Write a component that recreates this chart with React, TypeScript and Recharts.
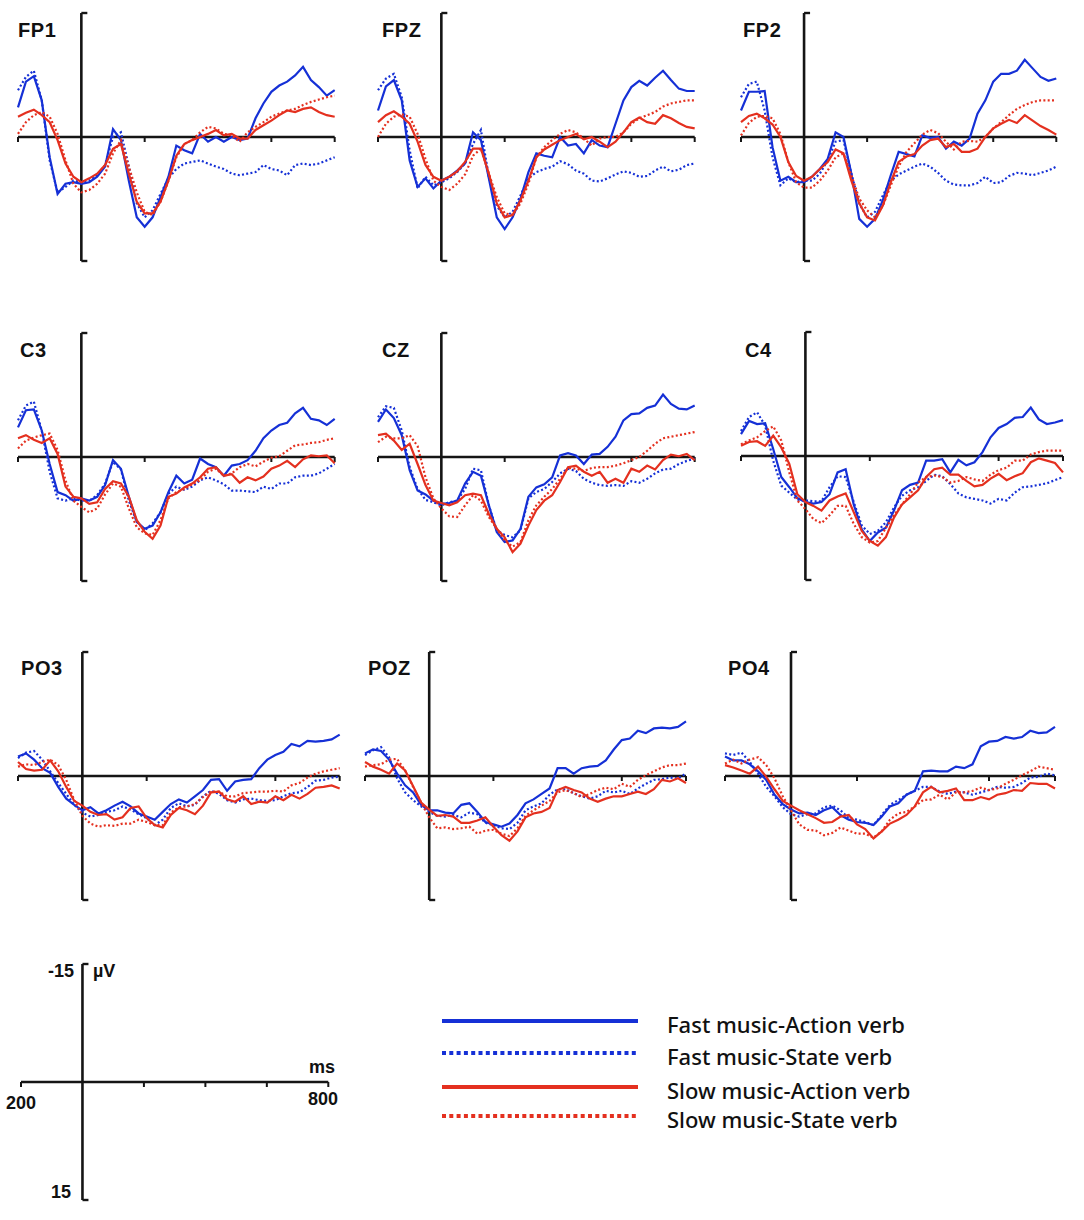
import React from "react";
import { LineChart, Line, XAxis, YAxis, ReferenceLine } from "recharts";

// time points (ms), one every 25 ms
const times = [
  -200, -175, -150, -125, -100, -75, -50, -25, 0, 25, 50, 75, 100, 125, 150, 175, 200, 225, 250, 275, 300,
  325, 350, 375, 400, 425, 450, 475, 500, 525, 550, 575, 600, 625, 650, 675, 700, 725, 750, 775, 800,
];

const seriesNames = [
  "Fast music-Action verb",
  "Fast music-State verb",
  "Slow music-Action verb",
  "Slow music-State verb",
];

// amplitudes in µV (negative plotted up)
const fp1FastAction = [-3.8, -7.1, -7.8, -4.7, 2.6, 7.3, 6.0, 5.8, 6.0, 5.8, 5.1, 3.8, -1.0, 0.4, 5.6, 10.3, 11.5, 10.3, 7.7, 5.1, 1.1, 1.7, 2.1, -0.4, 0.6, 0, 0.6, 0, 0.4, 0.2, -2.4, -4.3, -5.8, -6.6, -7.1, -7.9, -9.0, -7.3, -6.4, -5.3, -6.0];
const fp1FastState = [-6.0, -7.7, -8.5, -4.7, 3.0, 7.1, 6.4, 5.6, 5.8, 5.6, 4.9, 3.6, 0, -0.6, 3.8, 8.5, 10.3, 9.4, 7.3, 5.3, 4.1, 3.4, 3.2, 3.0, 3.4, 3.8, 4.1, 4.7, 4.9, 4.7, 4.5, 3.6, 4.1, 4.3, 4.9, 3.6, 3.4, 3.6, 3.4, 3.0, 2.6];
const fp1SlowAction = [-2.6, -3.1, -3.5, -2.8, -1.9, 0.4, 3.4, 5.1, 5.8, 5.3, 4.7, 3.6, 1.5, 0.9, 4.7, 8.3, 9.8, 9.8, 8.3, 5.6, 2.4, 0.9, 0.4, 0, -0.4, -0.9, -0.2, -0.4, 0.2, 0.2, -0.9, -1.5, -2.1, -2.8, -3.4, -3.2, -3.6, -3.8, -3.2, -2.8, -2.6];
const fp1SlowState = [-0.4, -1.9, -2.8, -3.2, -2.6, -0.4, 3.0, 6.0, 7.1, 6.8, 6.0, 4.7, 2.1, 0.4, 3.8, 7.1, 9.6, 10.0, 8.3, 5.6, 2.6, 0.9, 0.4, -0.6, -1.3, -1.1, -0.4, -0.2, 0.6, -0.6, -1.3, -1.9, -2.6, -3.0, -3.4, -3.6, -4.1, -4.5, -4.8, -5.1, -5.3];

const fpzFastAction = [-3.4, -6.5, -7.3, -4.7, 3.0, 6.4, 5.3, 6.6, 5.6, 5.1, 4.3, 3.4, -0.6, 0.4, 5.3, 10.3, 11.8, 10.3, 7.9, 4.5, 2.1, 2.4, 2.6, 0, 1.1, 0.9, 2.1, 0.4, 1.1, 1.3, -1.7, -4.7, -6.4, -7.2, -6.6, -7.6, -8.5, -7.3, -6.2, -5.9, -5.9];
const fpzFastState = [-6.0, -7.5, -8.1, -5.1, 1.7, 6.6, 5.1, 6.2, 5.8, 5.3, 4.5, 3.4, 0.9, -0.9, 5.1, 8.8, 10.3, 9.6, 7.5, 5.3, 4.5, 4.1, 3.8, 3.1, 3.5, 4.3, 4.7, 5.6, 5.7, 5.3, 4.8, 4.4, 4.6, 5.1, 5.0, 4.3, 3.8, 4.4, 4.2, 3.6, 3.4];
const fpzSlowAction = [-1.9, -2.8, -3.3, -2.6, -1.7, 0.6, 3.6, 5.1, 5.6, 5.1, 4.4, 3.2, 1.5, 1.5, 4.7, 8.5, 10.3, 10.0, 8.1, 5.6, 2.6, 1.6, 1.0, 0.4, 0, -0.4, 0.3, 0, 0.6, 1.3, 0.6, -0.6, -1.9, -2.5, -1.9, -1.7, -2.8, -2.4, -1.8, -1.3, -1.1];
const fpzSlowState = [0, -1.7, -2.6, -2.9, -2.6, -0.4, 2.8, 5.6, 6.4, 6.8, 6.0, 4.8, 2.4, 1.5, 4.7, 7.7, 9.8, 10.0, 8.5, 6.0, 2.6, 1.3, 0.4, -0.4, -0.9, -0.6, 0.2, 1.1, 0.2, 0, 0, -0.6, -1.7, -2.4, -2.8, -3.2, -3.9, -4.3, -4.5, -4.7, -4.7];

const fp2FastAction = [-3.4, -5.8, -5.8, -5.9, 1.3, 5.6, 5.1, 5.8, 5.8, 5.1, 4.1, 2.8, -0.6, 0, 4.7, 10.5, 11.5, 10.5, 8.1, 4.9, 1.9, 2.2, 2.5, -0.2, 0.1, 0, 1.5, 0.6, 1.1, 0.2, -3.0, -4.7, -7.1, -8.1, -8.1, -8.5, -9.9, -8.8, -7.7, -7.2, -7.5];
const fp2FastState = [-5.1, -6.8, -7.1, -3.4, 2.6, 6.2, 5.3, 5.8, 5.6, 5.6, 4.7, 3.0, 0.6, 0.4, 4.7, 8.5, 10.3, 9.6, 7.5, 5.6, 4.8, 4.3, 3.8, 3.4, 3.8, 4.6, 5.6, 6.1, 6.2, 6.2, 5.9, 5.1, 5.9, 5.8, 5.0, 4.6, 4.7, 4.9, 4.6, 4.3, 3.8];
const fp2SlowAction = [-1.9, -2.7, -3.0, -2.4, -1.6, 0, 3.2, 5.0, 5.6, 5.1, 4.1, 3.2, 1.6, 2.1, 5.6, 8.5, 10.3, 10.7, 8.8, 5.8, 3.2, 2.5, 2.2, 1.1, 0.4, 0.2, 1.3, 0.9, 1.9, 1.9, 1.5, 0, -1.1, -1.7, -2.2, -1.8, -2.8, -2.1, -1.4, -0.9, -0.3];
const fp2SlowState = [-0.2, -1.8, -2.6, -2.7, -2.4, -0.4, 3.2, 5.8, 6.5, 6.5, 5.6, 4.3, 2.6, 2.1, 4.9, 7.9, 9.4, 10.3, 8.8, 6.2, 3.8, 1.9, 0.8, -0.3, -0.9, -0.5, 0.6, 1.6, 0.6, 0.5, 0.6, 0, -1.1, -1.9, -2.8, -3.6, -4.1, -4.5, -4.7, -4.7, -4.7];

const c3FastAction = [-3.8, -6.0, -6.1, -3.4, 0.9, 4.5, 4.9, 5.6, 5.3, 5.6, 5.1, 3.6, 0.4, 1.5, 5.1, 8.3, 9.2, 8.8, 7.1, 4.5, 2.4, 3.4, 2.9, 0.2, 0.9, 1.3, 2.4, 1.1, 0.9, 0.4, -0.8, -2.4, -3.4, -4.1, -4.4, -5.6, -6.3, -4.9, -4.7, -4.1, -4.9];
const c3FastState = [-4.7, -6.6, -7.1, -3.4, 1.9, 5.3, 5.6, 5.3, 5.6, 5.6, 4.9, 3.4, 0.6, 1.6, 5.6, 8.3, 9.4, 8.5, 7.1, 4.7, 3.8, 4.2, 3.8, 3.0, 2.6, 3.0, 3.5, 4.3, 4.3, 4.4, 4.5, 3.8, 4.1, 3.4, 3.4, 2.6, 2.4, 2.4, 2.1, 1.5, 0.9];
const c3SlowAction = [-2.4, -2.8, -2.2, -1.8, -2.4, -0.4, 3.8, 5.1, 5.3, 6.0, 5.8, 4.1, 3.1, 3.4, 5.1, 8.1, 9.6, 10.5, 8.8, 5.1, 4.7, 3.9, 3.4, 2.6, 1.5, 1.3, 2.4, 2.2, 3.3, 2.6, 3.0, 2.5, 1.5, 1.1, 0.5, 1.3, 0.3, -0.2, -0.1, -0.2, 0.8];
const c3SlowState = [-1.1, -2.1, -2.5, -2.8, -3.0, -0.9, 3.0, 5.6, 6.4, 7.1, 6.6, 4.8, 3.4, 3.8, 6.6, 9.0, 9.8, 10.0, 8.1, 5.3, 4.5, 4.1, 3.5, 3.0, 1.9, 1.5, 2.4, 2.1, 1.3, 0.9, 1.2, 0.6, 0.1, -0.1, -0.8, -1.5, -1.6, -1.8, -1.9, -2.2, -2.4];

const czFastAction = [-4.5, -6.1, -5.0, -2.8, 1.7, 4.3, 4.8, 5.6, 6.0, 5.9, 5.6, 3.4, 1.9, 2.4, 6.2, 9.6, 10.9, 10.7, 9.2, 5.1, 3.9, 3.5, 2.6, -0.2, -0.5, -0.2, 0.9, -0.3, -0.4, -1.3, -2.6, -4.7, -5.5, -5.6, -6.3, -6.6, -8.0, -6.8, -6.2, -6.1, -6.6];
const czFastState = [-5.1, -6.5, -6.3, -3.4, 1.3, 4.1, 5.5, 5.8, 6.2, 5.8, 5.6, 4.1, 1.5, 1.7, 6.2, 9.4, 10.0, 10.3, 9.4, 5.3, 4.5, 4.1, 3.2, 2.1, 1.5, 1.8, 2.8, 3.3, 3.6, 3.7, 3.6, 3.7, 3.1, 3.3, 2.8, 2.1, 1.6, 1.5, 0.9, 0.5, 0.2];
const czSlowAction = [-2.8, -3.0, -2.1, -0.9, -1.7, 0.9, 3.6, 5.6, 5.9, 6.2, 5.8, 4.9, 4.7, 4.9, 7.3, 9.2, 10.3, 12.2, 11.1, 8.8, 6.8, 5.6, 4.9, 3.2, 1.3, 1.1, 1.9, 2.4, 1.9, 3.3, 2.8, 3.3, 1.5, 1.9, 1.1, 1.6, 0.4, -0.3, -0.1, -0.4, 0.4];
const czSlowState = [-1.9, -2.6, -2.4, -2.4, -2.8, -1.4, 2.6, 5.3, 6.6, 7.6, 7.7, 6.2, 4.9, 5.6, 7.7, 9.2, 10.7, 11.5, 10.9, 8.1, 6.2, 5.1, 4.1, 2.8, 1.4, 1.5, 1.8, 1.4, 1.3, 1.3, 1.1, 0.8, 0.4, 0, -0.8, -1.7, -2.4, -2.6, -2.8, -3.0, -3.2];

const c4FastAction = [-2.8, -4.5, -4.1, -4.2, -0.9, 2.7, 4.0, 5.4, 5.9, 6.1, 5.9, 4.9, 2.1, 1.7, 6.2, 9.4, 10.9, 9.8, 9.2, 7.0, 4.4, 3.7, 3.4, 0.6, 0.6, 0.4, 2.1, 0.5, 1.2, 0.8, -0.5, -2.4, -3.6, -4.1, -4.9, -5.0, -6.2, -4.7, -4.1, -4.3, -4.6];
const c4FastState = [-3.2, -5.0, -5.6, -3.9, 0.6, 3.8, 4.7, 5.6, 5.7, 5.8, 5.8, 4.0, 2.6, 2.7, 5.9, 8.9, 10.0, 9.6, 8.5, 6.6, 5.1, 4.4, 4.0, 3.2, 2.4, 2.6, 3.6, 4.8, 5.3, 5.5, 5.7, 6.1, 5.5, 5.7, 4.7, 4.0, 3.9, 3.7, 3.5, 3.1, 2.7];
const c4SlowAction = [-1.3, -1.8, -1.9, -1.3, -2.6, -1.1, 1.0, 4.9, 5.9, 6.4, 7.0, 5.7, 5.2, 4.8, 7.2, 9.6, 10.9, 11.5, 10.4, 7.9, 6.2, 5.3, 4.4, 2.7, 1.7, 1.5, 2.4, 2.4, 3.2, 3.9, 3.7, 2.9, 2.3, 3.1, 2.6, 2.2, 0.8, 0.3, 0.6, 0.9, 2.1];
const c4SlowState = [-1.5, -2.0, -2.4, -3.2, -3.8, -2.0, 2.1, 5.7, 6.8, 8.1, 8.6, 7.6, 6.4, 6.4, 8.7, 10.4, 11.1, 10.9, 9.2, 7.6, 6.2, 4.9, 3.4, 2.7, 2.5, 2.7, 3.4, 3.2, 2.7, 3.0, 3.2, 2.4, 1.8, 1.5, 0.6, 0.6, -0.2, -0.5, -0.7, -0.7, -0.7];

const po3FastAction = [-2.5, -2.9, -2.1, -1.0, -0.4, 1.4, 2.9, 3.7, 4.4, 4.0, 4.8, 4.4, 3.8, 3.3, 3.9, 4.8, 5.2, 5.6, 4.6, 3.6, 3.0, 3.4, 2.6, 1.8, 0.5, 0.4, 1.9, 0.7, 0.5, 0.4, -1.0, -2.1, -2.7, -3.1, -4.1, -3.8, -4.5, -4.4, -4.5, -4.7, -5.3];
const po3FastState = [-2.3, -3.0, -3.2, -2.1, -0.6, 0.9, 2.3, 3.7, 4.7, 5.2, 5.0, 4.6, 4.4, 3.9, 4.3, 4.9, 5.4, 6.3, 5.6, 4.1, 3.5, 3.9, 3.7, 2.6, 1.9, 2.3, 3.1, 3.4, 3.0, 2.9, 3.1, 3.2, 3.1, 2.6, 2.2, 2.1, 1.4, 0.6, 0.5, 0.2, 0.1];
const po3SlowAction = [-1.8, -0.9, -0.7, -0.8, -2.0, -0.6, 1.4, 3.2, 3.8, 4.6, 5.0, 4.9, 5.6, 5.3, 4.1, 3.9, 5.4, 6.3, 6.6, 5.0, 4.1, 4.4, 4.9, 3.8, 2.1, 2.0, 3.0, 3.3, 2.6, 3.6, 3.3, 3.4, 2.6, 3.1, 2.4, 2.9, 2.3, 1.5, 1.4, 1.2, 1.6];
const po3SlowState = [-1.2, -1.5, -1.4, -1.8, -2.1, -1.4, 0.5, 3.1, 5.1, 6.1, 6.5, 6.3, 6.4, 6.1, 6.1, 5.6, 5.9, 6.3, 6.3, 4.7, 4.0, 3.9, 3.6, 2.7, 2.0, 2.0, 2.6, 2.6, 2.2, 2.1, 2.0, 2.0, 1.9, 2.0, 1.2, 0.9, 0.2, -0.3, -0.6, -0.8, -1.0];

const pozFastAction = [-2.9, -3.4, -3.2, -2.1, -0.3, 1.2, 2.1, 3.7, 4.4, 4.4, 4.7, 4.8, 3.7, 3.5, 4.6, 5.9, 6.2, 6.5, 6.1, 5.0, 3.5, 3.0, 2.3, 1.6, -1.0, -1.0, -0.3, -1.0, -1.2, -1.3, -2.0, -3.4, -4.6, -4.8, -5.8, -5.5, -6.1, -6.2, -6.1, -6.3, -7.0];
const pozFastState = [-2.7, -3.3, -3.7, -2.4, 0.3, 2.1, 3.1, 3.9, 4.6, 5.1, 5.2, 5.0, 5.3, 4.7, 4.9, 6.0, 6.3, 6.7, 6.8, 6.0, 4.4, 3.9, 3.5, 2.4, 1.7, 1.7, 2.2, 2.6, 2.9, 2.6, 1.9, 2.1, 1.9, 2.3, 1.6, 1.0, 0.5, 0.4, 0.2, 0.3, -0.3];
const pozSlowAction = [-1.8, -1.2, -0.8, -0.3, -1.6, -0.7, 1.3, 3.4, 4.3, 5.1, 5.0, 5.2, 6.0, 6.0, 5.7, 5.3, 6.5, 7.6, 8.3, 7.1, 5.3, 4.8, 4.6, 4.1, 1.8, 1.4, 1.8, 2.1, 2.9, 3.3, 2.9, 2.6, 2.6, 2.3, 2.0, 2.3, 1.7, 0.5, 0.7, 0.3, 0.9];
const pozSlowState = [-1.2, -1.4, -1.5, -2.1, -2.2, -0.7, 1.4, 3.4, 5.3, 6.7, 6.6, 6.8, 6.7, 6.5, 7.4, 7.0, 6.9, 7.4, 7.7, 6.7, 5.1, 4.4, 3.8, 3.2, 2.1, 1.8, 2.2, 2.7, 2.3, 1.8, 1.5, 1.7, 1.0, 1.4, 0.5, -0.1, -0.6, -1.1, -1.4, -1.4, -1.6];

const po4FastAction = [-2.5, -2.0, -2.0, -1.5, -0.6, 0.5, 2.4, 3.6, 4.3, 4.8, 4.7, 5.0, 4.4, 4.0, 5.0, 5.6, 5.9, 6.0, 6.3, 5.2, 3.9, 3.5, 2.4, 1.9, -0.6, -0.7, -0.6, -0.6, -1.2, -1.0, -1.5, -3.8, -4.4, -4.5, -5.0, -4.8, -5.0, -5.8, -5.5, -5.6, -6.3];
const po4FastState = [-2.9, -2.7, -3.0, -1.8, -0.3, 1.4, 2.6, 4.0, 4.9, 5.2, 4.9, 4.8, 4.0, 3.8, 4.4, 5.4, 5.6, 5.9, 6.3, 5.0, 3.7, 3.1, 2.4, 1.9, 1.4, 1.4, 2.0, 2.3, 2.0, 2.1, 2.4, 2.1, 1.8, 1.4, 1.5, 1.4, 0.9, 0.2, 0.1, -0.3, -0.1];
const po4SlowAction = [-1.4, -1.1, -0.7, -0.3, -1.2, 0.1, 1.7, 3.2, 3.8, 4.4, 4.9, 5.4, 6.0, 5.9, 5.2, 5.0, 6.2, 6.8, 8.0, 7.1, 6.1, 5.6, 5.0, 3.9, 2.1, 1.4, 2.1, 1.9, 1.6, 3.1, 3.1, 2.7, 3.0, 2.4, 2.2, 1.8, 1.9, 0.9, 1.0, 1.0, 1.6];
const po4SlowState = [-1.6, -2.1, -1.6, -2.1, -2.4, -1.4, 0.3, 2.6, 4.4, 6.2, 6.9, 7.0, 7.6, 7.3, 6.6, 7.0, 7.4, 7.4, 7.9, 7.1, 5.6, 4.8, 4.6, 3.9, 3.1, 3.0, 2.4, 3.0, 2.1, 2.1, 1.9, 1.5, 1.8, 1.6, 1.0, 0.5, -0.1, -0.6, -1.2, -1.0, -0.8];

// axis ticks
const panelTicks = [-200, 200, 600, 800];
const scaleTicks = [-200, 200, 400, 600, 800];
const scaleRange = [-15, 15];

// layout (page pixels): x of -200 ms, x of 800 ms, y of 0 µV, label position
const panels = [
  { name: "FP1", x0: 18.3, x1: 335, zero: 137, lx: 18, ly: 38, data: [fp1FastAction, fp1FastState, fp1SlowAction, fp1SlowState] },
  { name: "FPZ", x0: 378.3, x1: 695, zero: 137, lx: 382, ly: 38, data: [fpzFastAction, fpzFastState, fpzSlowAction, fpzSlowState] },
  { name: "FP2", x0: 740.7, x1: 1056, zero: 137, lx: 743, ly: 38, data: [fp2FastAction, fp2FastState, fp2SlowAction, fp2SlowState] },
  { name: "C3", x0: 18.3, x1: 335, zero: 456.7, lx: 20, ly: 358, data: [c3FastAction, c3FastState, c3SlowAction, c3SlowState] },
  { name: "CZ", x0: 378.3, x1: 695, zero: 456.7, lx: 382, ly: 358, data: [czFastAction, czFastState, czSlowAction, czSlowState] },
  { name: "C4", x0: 741, x1: 1063, zero: 455.5, lx: 745, ly: 358, data: [c4FastAction, c4FastState, c4SlowAction, c4SlowState] },
  { name: "PO3", x0: 18.3, x1: 340, zero: 776, lx: 21, ly: 676, data: [po3FastAction, po3FastState, po3SlowAction, po3SlowState] },
  { name: "POZ", x0: 365, x1: 686, zero: 776, lx: 368, ly: 676, data: [pozFastAction, pozFastState, pozSlowAction, pozSlowState] },
  { name: "PO4", x0: 725, x1: 1055, zero: 776, lx: 728, ly: 676, data: [po4FastAction, po4FastState, po4SlowAction, po4SlowState] },
];

const BLUE = "#1530d6";
const RED = "#e4301f";
const AXIS = "#151515";
const PAD = 8;
const PANEL_H = 248;
const Y_MAX = 15.9;
const LABEL_FONT = "'Liberation Sans', Arial, sans-serif";

const lineStyles = [
  { key: "fa", color: BLUE, dash: undefined },
  { key: "fs", color: BLUE, dash: "2 2.3" },
  { key: "sa", color: RED, dash: undefined },
  { key: "ss", color: RED, dash: "2 2.3" },
];
// blue dotted first, red solid last
const drawOrder = [1, 0, 3, 2];

function ErpPanel({ p }: { p: (typeof panels)[number] }) {
  const w = p.x1 - p.x0;
  const rows = times.map((t, i) => ({
    t,
    fa: p.data[0][i],
    fs: p.data[1][i],
    sa: p.data[2][i],
    ss: p.data[3][i],
  }));
  const tickLen = (5 / PANEL_H) * 2 * Y_MAX;
  const bracket = (6 / w) * 1000;
  return (
    <div style={{ position: "absolute", left: p.x0 - PAD, top: p.zero - PANEL_H / 2 - PAD }}>
      <LineChart
        width={w + 2 * PAD}
        height={PANEL_H + 2 * PAD}
        data={rows}
        margin={{ top: PAD, right: PAD, bottom: PAD, left: PAD }}
      >
        <XAxis type="number" dataKey="t" domain={[-200, 800]} hide />
        <YAxis type="number" domain={[-Y_MAX, Y_MAX]} reversed hide />
        <ReferenceLine y={0} stroke={AXIS} strokeWidth={2.6} />
        <ReferenceLine x={0} stroke={AXIS} strokeWidth={2.6} />
        {panelTicks.map((t) => (
          <ReferenceLine key={t} segment={[{ x: t, y: 0 }, { x: t, y: tickLen }]} stroke={AXIS} strokeWidth={2} />
        ))}
        <ReferenceLine segment={[{ x: 0, y: -Y_MAX }, { x: bracket, y: -Y_MAX }]} stroke={AXIS} strokeWidth={2.4} />
        <ReferenceLine segment={[{ x: 0, y: Y_MAX }, { x: bracket, y: Y_MAX }]} stroke={AXIS} strokeWidth={2.4} />
        {drawOrder.map((i) => (
          <Line
            key={lineStyles[i].key}
            type="linear"
            dataKey={lineStyles[i].key}
            name={seriesNames[i]}
            stroke={lineStyles[i].color}
            strokeWidth={2.2}
            strokeDasharray={lineStyles[i].dash}
            dot={false}
            isAnimationActive={false}
          />
        ))}
      </LineChart>
      <div
        style={{
          position: "absolute",
          left: p.lx - p.x0 + PAD,
          top: p.ly - 18 - (p.zero - PANEL_H / 2 - PAD),
          fontFamily: LABEL_FONT,
          fontWeight: 700,
          fontSize: 20,
          lineHeight: "20px",
          letterSpacing: 0.6,
          color: "#111",
        }}
      >
        {p.name}
      </div>
    </div>
  );
}

function ScaleBar() {
  const x0 = 20.7;
  const x1 = 328;
  const top = 964;
  const h = 236;
  const w = x1 - x0;
  const tickLen = (5 / h) * (scaleRange[1] - scaleRange[0]);
  const bracket = (6 / w) * 1000;
  // end points of the time range; no amplitude values, so the line draws nothing
  const rows = [
    { t: -200, v: null },
    { t: 800, v: null },
  ];
  const txt = { position: "absolute" as const, fontFamily: LABEL_FONT, fontWeight: 700, fontSize: 18, lineHeight: "18px", color: "#111" };
  return (
    <>
      <div style={{ position: "absolute", left: x0 - PAD, top: top - PAD }}>
        <LineChart
          width={w + 2 * PAD}
          height={h + 2 * PAD}
          data={rows}
          margin={{ top: PAD, right: PAD, bottom: PAD, left: PAD }}
        >
          <XAxis type="number" dataKey="t" domain={[-200, 800]} hide />
          <YAxis type="number" domain={scaleRange} reversed hide allowDataOverflow />
          <Line dataKey="v" stroke="none" dot={false} isAnimationActive={false} />
          <ReferenceLine y={0} stroke={AXIS} strokeWidth={2.6} />
          <ReferenceLine x={0} stroke={AXIS} strokeWidth={2.6} />
          {scaleTicks.map((t) => (
            <ReferenceLine key={t} segment={[{ x: t, y: 0 }, { x: t, y: tickLen }]} stroke={AXIS} strokeWidth={2} />
          ))}
          <ReferenceLine segment={[{ x: 0, y: scaleRange[0] }, { x: bracket, y: scaleRange[0] }]} stroke={AXIS} strokeWidth={2.4} />
          <ReferenceLine segment={[{ x: 0, y: scaleRange[1] }, { x: bracket, y: scaleRange[1] }]} stroke={AXIS} strokeWidth={2.4} />
        </LineChart>
      </div>
      <div style={{ ...txt, left: 48, top: 962 }}>-15</div>
      <div style={{ ...txt, left: 93, top: 962 }}>µV</div>
      <div style={{ ...txt, left: 309, top: 1058 }}>ms</div>
      <div style={{ ...txt, left: 6, top: 1094 }}>200</div>
      <div style={{ ...txt, left: 308, top: 1090 }}>800</div>
      <div style={{ ...txt, left: 51, top: 1183 }}>15</div>
    </>
  );
}

function LegendBox() {
  const rowsY = [1021, 1053, 1087, 1116];
  return (
    <svg style={{ position: "absolute", left: 0, top: 0 }} width={1084} height={1220}>
      {lineStyles.map((s, i) => (
        <g key={s.key}>
          <line
            x1={442}
            x2={638}
            y1={rowsY[i]}
            y2={rowsY[i]}
            stroke={s.color}
            strokeWidth={4}
            strokeDasharray={s.dash ? "4 3.3" : undefined}
          />
          <text
            x={667}
            y={rowsY[i] + 12}
            fontFamily="'Noto Sans', sans-serif"
            fontWeight={500}
            fontSize={22}
            fill="#111"
          >
            {seriesNames[i]}
          </text>
        </g>
      ))}
    </svg>
  );
}

export default function App() {
  return (
    <div style={{ position: "absolute", left: 0, top: 0, width: 1084, height: 1220, background: "#fff" }}>
      <LegendBox />
      {panels.map((p) => (
        <ErpPanel key={p.name} p={p} />
      ))}
      <ScaleBar />
    </div>
  );
}
